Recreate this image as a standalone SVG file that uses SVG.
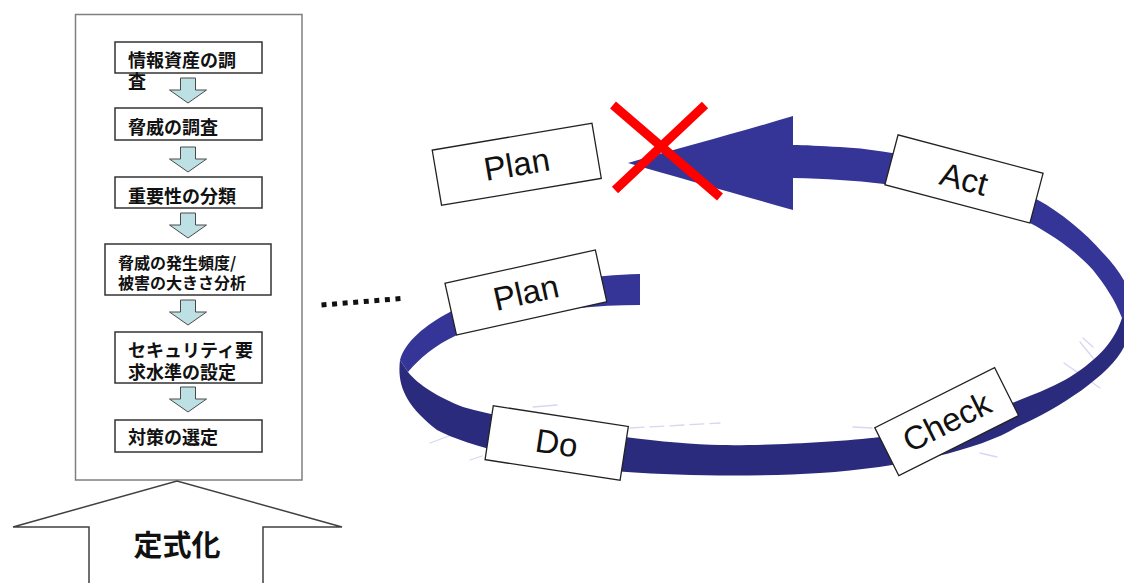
<svg xmlns="http://www.w3.org/2000/svg" width="1124" height="583" viewBox="0 0 1124 583">
  <style>
    .frame { fill: #ffffff; stroke: #7f7f7f; stroke-width: 1.5; }
    .step { fill: #ffffff; stroke: #333333; stroke-width: 1.5; }
    .jp { font-family: "Noto Sans CJK JP", "Noto Sans CJK SC", sans-serif; font-weight: 700; fill: #111111; }
    .down { fill: #bde0e4; stroke: #4a4a4a; stroke-width: 1; }
    .tag { fill: #ffffff; stroke: #222222; stroke-width: 1.3; }
    .tagtext { font-family: "Liberation Sans", Arial, sans-serif; font-size: 33px; fill: #111111; text-anchor: middle; }
    .band-back { fill: #353597; }
    .band-front { fill: #2b2b7d; }
    .trace { fill: none; stroke: #d6d7f0; stroke-width: 1.3; stroke-linecap: round; }
  </style>
  <defs>
    <path id="dn" d="M-7.5,0 h15 v12 h11 l-18.5,13 l-18.5,-13 h11 z"/>
  </defs>

  <rect width="1124" height="583" fill="#ffffff"/>

  <!-- procedure column -->
  <g id="procedure">
    <rect class="frame" x="75.5" y="14.5" width="226.5" height="465.5"/>

    <g id="step1">
      <rect class="step" x="115" y="42" width="147" height="31"/>
      <text class="jp" font-size="18"><tspan x="128" y="67">情報資産の調</tspan><tspan x="128" y="88">査</tspan></text>
    </g>
    <g id="step2">
      <rect class="step" x="115" y="108" width="147" height="32"/>
      <text class="jp" font-size="18" x="128" y="134">脅威の調査</text>
    </g>
    <g id="step3">
      <rect class="step" x="115" y="177" width="147" height="31"/>
      <text class="jp" font-size="18" x="128" y="203">重要性の分類</text>
    </g>
    <g id="step4">
      <rect class="step" x="105" y="244" width="166" height="51"/>
      <text class="jp" font-size="16"><tspan x="118" y="268.5">脅威の発生頻度/</tspan><tspan x="118" y="289">被害の大きさ分析</tspan></text>
    </g>
    <g id="step5">
      <rect class="step" x="115" y="332" width="147" height="51"/>
      <text class="jp" font-size="18"><tspan x="128" y="356.5">セキュリティ要</tspan><tspan x="128" y="379">求水準の設定</tspan></text>
    </g>
    <g id="step6">
      <rect class="step" x="115" y="420" width="147" height="32"/>
      <text class="jp" font-size="18" x="128" y="444">対策の選定</text>
    </g>

    <g id="step-arrows">
      <use href="#dn" class="down" x="188" y="78"/>
      <use href="#dn" class="down" x="188" y="147"/>
      <use href="#dn" class="down" x="188" y="213"/>
      <use href="#dn" class="down" x="188" y="300"/>
      <use href="#dn" class="down" x="188" y="387"/>
    </g>
  </g>

  <!-- formalisation arrow -->
  <g id="formalise">
    <path d="M89,590 V527 H13 L177,481 L342,527 H263 V590" fill="#ffffff" stroke="#404040" stroke-width="1.5"/>
    <text class="jp" font-size="29" x="177" y="556" text-anchor="middle">定式化</text>
  </g>

  <!-- dotted lead-in -->
  <line x1="321.5" y1="305" x2="401" y2="298.5" stroke="#111111" stroke-width="5" stroke-dasharray="5 5.6"/>

  <!-- faint traces around the cycle -->
  <g id="traces">
    <path class="trace" d="M430,443 L457,433"/>
    <path class="trace" d="M470,460 L482,456"/>
    <path class="trace" d="M533,407 L557,405"/>
    <path class="trace" d="M630,428 L720,423" stroke-dasharray="14 6"/>
    <path class="trace" d="M853,427 L872,428"/>
    <path class="trace" d="M980,453 L997,457"/>
    <path class="trace" d="M1080,342 L1098,364"/>
    <path class="trace" d="M1064,363 L1100,388"/>
    <path class="trace" d="M1083,338 L1093,347"/>
  </g>

  <!-- PDCA cycle ribbon -->
  <g id="cycle">
    <!-- front (lower) arc -->
    <path class="band-front" d="M400,360 C397,385 405,405 437,430 C470,448 560,468 627,472 C680,476 760,477 820,473 C900,468 980,450 1017,427 C1060,408 1110,375 1124,347 C1132,333 1137,325 1136,318 L1122,318 C1115,340 1100,358 1070,377 C1040,395 960,425 880,437 C840,442 760,446 720,445 C660,444 540,428 463,407 C440,398 418,385 408,372 Z"/>
    <!-- back-left arc starting at the tail -->
    <path class="band-back" d="M640,274 C560,276 480,295 450,312 C425,325 405,342 400,360 L408,372 C420,358 435,345 457,335 C510,314 580,305 640,305 Z"/>
    <!-- back-right arc ending in the arrowhead -->
    <path class="band-back" d="M1136,318 C1135,295 1120,270 1103,253 C1085,232 1060,212 1038,200 C980,170 900,150 840,147 C820,146 805,145 793,145 L793,116 C740,132 680,148 628,163 C680,178 740,195 793,210 L793,178 C810,178 825,179 840,180 C900,183 980,198 1030,223 C1055,236 1080,255 1093,270 C1105,285 1115,300 1122,318 Z"/>
  </g>

  <!-- phase labels -->
  <g id="plan-old" transform="translate(516.75,164.25) rotate(-9.6)">
    <rect class="tag" x="-81" y="-28" width="162" height="56"/>
    <text class="tagtext" x="0" y="11.5">Plan</text>
  </g>
  <g id="plan" transform="translate(525.9,292.5) rotate(-12.5)">
    <rect class="tag" x="-77" y="-26.5" width="154" height="53"/>
    <text class="tagtext" x="0" y="11.5">Plan</text>
  </g>
  <g id="do" transform="translate(556.7,443) rotate(8.7)">
    <rect class="tag" x="-68.3" y="-27.2" width="136.6" height="54.5"/>
    <text class="tagtext" x="0" y="11.5">Do</text>
  </g>
  <g id="check" transform="translate(946.7,421.7) rotate(-26.6)">
    <rect class="tag" x="-67" y="-26.8" width="134" height="53.6"/>
    <text class="tagtext" x="0" y="11.5">Check</text>
  </g>
  <g id="act" transform="translate(964,178.9) rotate(14.8)">
    <rect class="tag" x="-75" y="-25.7" width="150" height="51.5"/>
    <text class="tagtext" x="0" y="11.5">Act</text>
  </g>

  <!-- cross-out mark -->
  <g id="cross" stroke="#ff0000" stroke-width="9">
    <line x1="613" y1="105" x2="720" y2="197"/>
    <line x1="705" y1="105" x2="615" y2="190"/>
  </g>
</svg>
